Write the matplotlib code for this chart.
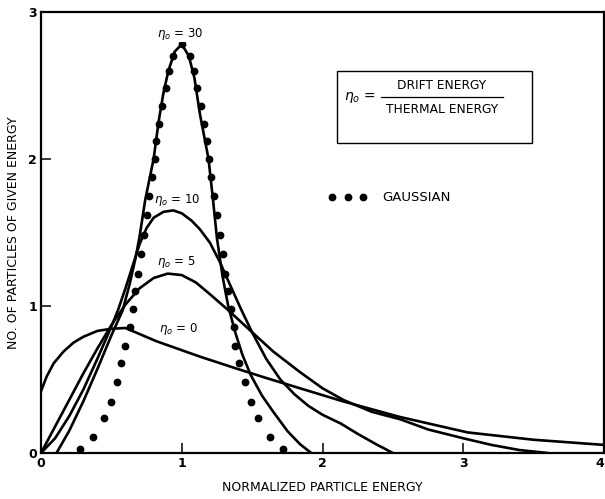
import matplotlib
matplotlib.use("Agg")
import matplotlib.pyplot as plt
from matplotlib.patches import Rectangle
from matplotlib.lines import Line2D

# Energy distributions for several drift-to-thermal energy ratios
eta0_x = [0.0, 0.04, 0.09, 0.16, 0.23, 0.30, 0.40, 0.50, 0.60, 0.82, 1.13, 1.37,
          1.60, 1.84, 2.15, 2.55, 3.03, 3.50, 4.00]
eta0_y = [0.42, 0.52, 0.61, 0.69, 0.75, 0.79, 0.83, 0.845, 0.85, 0.76, 0.655, 0.58,
          0.51, 0.44, 0.35, 0.245, 0.14, 0.09, 0.055]

eta5_x = [0.0, 0.1, 0.2, 0.3, 0.4, 0.5, 0.6, 0.7, 0.8, 0.9, 1.0, 1.1, 1.2, 1.32,
          1.49, 1.65, 1.84, 2.0, 2.15, 2.35, 2.55, 2.75, 3.0, 3.2, 3.4, 3.6]
eta5_y = [0.0, 0.18, 0.36, 0.54, 0.71, 0.87, 1.01, 1.12, 1.19, 1.22, 1.21, 1.16,
          1.08, 0.98, 0.83, 0.69, 0.55, 0.44, 0.36, 0.28, 0.23, 0.16, 0.10, 0.055,
          0.02, 0.0]

eta10_x = [0.0, 0.1, 0.2, 0.3, 0.4, 0.5, 0.55, 0.6, 0.65, 0.7, 0.75, 0.8, 0.87,
           0.94, 1.0, 1.07, 1.13, 1.2, 1.27, 1.34, 1.42, 1.5, 1.6, 1.7, 1.8, 1.9,
           2.0, 2.13, 2.25, 2.38, 2.5]
eta10_y = [0.0, 0.1, 0.25, 0.43, 0.64, 0.86, 0.98, 1.12, 1.27, 1.42, 1.53, 1.6,
           1.64, 1.65, 1.63, 1.58, 1.52, 1.43, 1.3, 1.15, 0.98, 0.82, 0.64, 0.5,
           0.4, 0.32, 0.26, 0.2, 0.13, 0.06, 0.0]

eta30_x = [0.11, 0.2, 0.3, 0.4, 0.5, 0.58, 0.63, 0.67, 0.70, 0.74, 0.80, 0.835,
           0.87, 0.905, 0.95, 1.0, 1.05, 1.09, 1.13, 1.19, 1.22, 1.25, 1.29, 1.33,
           1.38, 1.43, 1.49, 1.57, 1.65, 1.75, 1.84, 1.92]
eta30_y = [0.0, 0.15, 0.35, 0.57, 0.8, 0.97, 1.15, 1.32, 1.47, 1.72, 2.0, 2.25,
           2.45, 2.6, 2.73, 2.78, 2.7, 2.55, 2.3, 2.0, 1.74, 1.46, 1.2, 1.0,
           0.82, 0.67, 0.53, 0.39, 0.28, 0.15, 0.06, 0.0]

# Gaussian reference points
gauss_x = [0.28, 0.37, 0.45, 0.50, 0.54, 0.57, 0.60, 0.63, 0.65, 0.67, 0.69, 0.71,
           0.73, 0.75, 0.77, 0.79, 0.81, 0.82, 0.84, 0.86, 0.89, 0.91, 0.94, 1.00,
           1.06, 1.09, 1.11, 1.14, 1.16, 1.18, 1.19, 1.21, 1.23, 1.25, 1.27, 1.29,
           1.31, 1.33, 1.35, 1.37, 1.38, 1.41, 1.45, 1.49, 1.54, 1.63, 1.72]
gauss_y = [0.03, 0.11, 0.24, 0.35, 0.48, 0.61, 0.73, 0.86, 0.98, 1.10, 1.22, 1.35,
           1.48, 1.62, 1.75, 1.88, 2.00, 2.12, 2.24, 2.36, 2.48, 2.60, 2.70, 2.78,
           2.70, 2.60, 2.48, 2.36, 2.24, 2.12, 2.00, 1.88, 1.75, 1.62, 1.48, 1.35,
           1.22, 1.10, 0.98, 0.86, 0.73, 0.61, 0.48, 0.35, 0.24, 0.11, 0.03]

x_ticks = [0, 1, 2, 3, 4]
y_ticks = [0, 1, 2, 3]

curve_labels = [r"$\eta_o$ = 30", r"$\eta_o$ = 10", r"$\eta_o$ = 5", r"$\eta_o$ = 0"]
curve_label_pos = [(0.99, 2.85), (0.97, 1.72), (0.96, 1.30), (0.975, 0.84)]

plt.rcParams["font.family"] = ["DejaVu Sans"]
plt.rcParams["mathtext.fontset"] = "dejavusans"

fig = plt.figure(figsize=(6.05, 4.99), dpi=100)
ax = fig.add_axes([0.0678, 0.0922, 0.9306, 0.884])

lw = 1.9
for xs, ys in [(eta0_x, eta0_y), (eta5_x, eta5_y), (eta10_x, eta10_y), (eta30_x, eta30_y)]:
    ax.plot(xs, ys, color="black", lw=lw, solid_capstyle="round", solid_joinstyle="round")

ax.plot(gauss_x, gauss_y, "o", color="black", ms=4.6, mec="black")

for txt, (tx, ty) in zip(curve_labels, curve_label_pos):
    ax.text(tx, ty, txt, ha="center", va="center", fontsize=8.5,
            bbox=dict(facecolor="white", edgecolor="none", pad=0.3))

ax.set_xlim(0, 4)
ax.set_ylim(0, 3)
ax.set_xticks(x_ticks)
ax.set_yticks(y_ticks)
ax.set_xticklabels([str(t) for t in x_ticks], fontsize=9, fontweight="bold")
ax.set_yticklabels([str(t) for t in y_ticks], fontsize=9, fontweight="bold")
# keep the last x tick label inside the canvas
ax.get_xticklabels()[-1].set_horizontalalignment("right")
ax.tick_params(direction="in", length=7, width=1.1, pad=3)
for sp in ax.spines.values():
    sp.set_linewidth(1.6)

ax.set_xlabel("NORMALIZED PARTICLE ENERGY", fontsize=9, labelpad=8)
ax.set_ylabel("NO. OF PARTICLES OF GIVEN ENERGY", fontsize=9, labelpad=6)

# Definition box
ax.add_patch(Rectangle((0.526, 0.703), 0.346, 0.163, transform=ax.transAxes,
                       fill=False, edgecolor="black", lw=1.0))
ax.text(0.538, 0.807, r"$\eta_o$ =", transform=ax.transAxes, ha="left", va="center", fontsize=10)
ax.text(0.711, 0.832, "DRIFT ENERGY", transform=ax.transAxes, ha="center", va="center", fontsize=8.8)
ax.text(0.713, 0.778, "THERMAL ENERGY", transform=ax.transAxes, ha="center", va="center", fontsize=8.8)
ax.add_line(Line2D([0.603, 0.82], [0.806, 0.806], transform=ax.transAxes, color="black", lw=0.9))

# Gaussian key
ax.plot([0.517, 0.545, 0.572], [0.58, 0.58, 0.58], "o", color="black", ms=4.6,
        transform=ax.transAxes, clip_on=False)
ax.text(0.606, 0.58, "GAUSSIAN", transform=ax.transAxes, ha="left", va="center", fontsize=9.5)

fig.savefig("out.png", dpi=100)
